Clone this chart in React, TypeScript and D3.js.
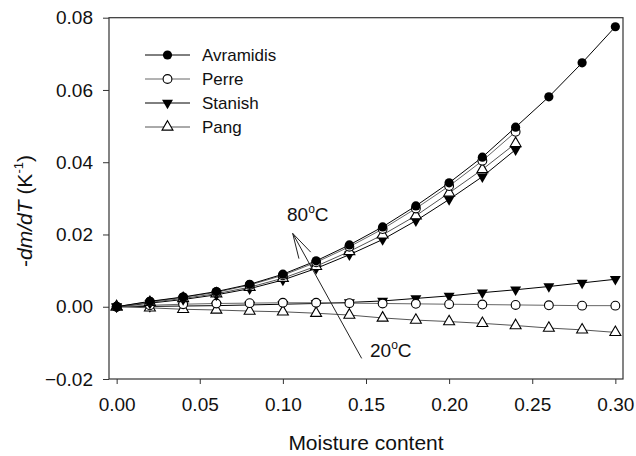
import React, { useEffect, useRef } from 'react';
import * as d3 from 'd3';

// moisture content (x) for all series
const moisture = [0, 0.02, 0.04, 0.06, 0.08, 0.10, 0.12, 0.14, 0.16, 0.18, 0.20, 0.22, 0.24, 0.26, 0.28, 0.30];

// upper group (80 C)
const avramidis = [0, 0.0015, 0.0027, 0.0042, 0.0062, 0.0090, 0.0127, 0.0171, 0.0221, 0.0279, 0.0343, 0.0414, 0.0497, 0.0581, 0.0675, 0.0775];
const perre80 = [0, 0.0014, 0.0026, 0.0040, 0.0060, 0.0087, 0.0123, 0.0166, 0.0215, 0.0272, 0.0334, 0.0404, 0.0484];
const pang80 = [0, 0.0012, 0.0023, 0.0036, 0.0054, 0.0079, 0.0112, 0.0153, 0.0199, 0.0252, 0.0315, 0.0380, 0.0452];
const stanish80 = [0, 0.0010, 0.0020, 0.0033, 0.0050, 0.0074, 0.0106, 0.0144, 0.0186, 0.0238, 0.0297, 0.0360, 0.0435];

// lower group (20 C)
const perre20 = [0, 0.0004, 0.0007, 0.0009, 0.0010, 0.0011, 0.0011, 0.0010, 0.0009, 0.0008, 0.0007, 0.0006, 0.0005, 0.0004, 0.0003, 0.0003];
const stanish20 = [0, 0.0001, 0.0002, 0.0003, 0.0005, 0.0007, 0.0009, 0.0012, 0.0016, 0.0023, 0.0030, 0.0039, 0.0047, 0.0056, 0.0066, 0.0076];
const pang20 = [0, -0.0003, -0.0007, -0.0009, -0.0012, -0.0014, -0.0018, -0.0023, -0.0031, -0.0037, -0.0041, -0.0046, -0.0052, -0.0059, -0.0064, -0.0071];

const legendNames = ['Avramidis', 'Perre', 'Stanish', 'Pang'];
const xTicks = [0, 0.05, 0.10, 0.15, 0.20, 0.25, 0.30];
const yTicks = [-0.02, 0, 0.02, 0.04, 0.06, 0.08];

// arrow annotation, data coordinates: tail (20 C) -> tip (80 C)
const arrowTail = [0.1474, -0.0143];
const arrowTip = [0.1059, 0.0203];
const label80 = [0.1025, 0.0238];
const label20 = [0.1524, -0.0138];

const FONT = '"Liberation Sans", Arial, Helvetica, sans-serif';

const Chart = ({ width, height }: { width: number; height: number }) => {
    const svgRef = useRef<SVGSVGElement>(null);

    useEffect(() => {
        const svg = d3.select(svgRef.current);
        svg.selectAll('*').remove();

        const left = 109, right = 623, top = 17.7, bottom = 379;

        const x = d3.scaleLinear().domain([-0.0046, 0.3046]).range([left, right]);
        const y = d3.scaleLinear().domain([-0.02, 0.08]).range([bottom, top]);

        const axisColor = '#333';

        // x axis
        const gx = svg.append('g')
            .attr('transform', `translate(0,${bottom})`)
            .call(d3.axisBottom(x).tickValues(xTicks).tickFormat(d3.format('.2f')).tickSize(5).tickSizeOuter(0).tickPadding(14));
        gx.select('.domain').remove();
        gx.selectAll('line').attr('stroke', axisColor);
        gx.selectAll('text').attr('font-size', '19px').attr('font-family', FONT).attr('fill', '#111');

        // y axis
        const gy = svg.append('g')
            .attr('transform', `translate(${left},0)`)
            .call(d3.axisLeft(y).tickValues(yTicks).tickFormat(d3.format('.2f')).tickSize(6).tickSizeOuter(0).tickPadding(10));
        gy.select('.domain').remove();
        gy.selectAll('line').attr('stroke', axisColor);
        gy.selectAll('text').attr('font-size', '19px').attr('font-family', FONT).attr('fill', '#111');

        // frame
        svg.append('rect')
            .attr('x', left).attr('y', top)
            .attr('width', right - left).attr('height', bottom - top)
            .attr('fill', 'none').attr('stroke', axisColor).attr('stroke-width', 1.2);

        const series = [
            { values: stanish20, marker: 'down', line: '#000' },
            { values: pang20, marker: 'up', line: '#555' },
            { values: perre20, marker: 'open', line: '#666' },
            { values: stanish80, marker: 'down', line: '#000' },
            { values: pang80, marker: 'up', line: '#555' },
            { values: perre80, marker: 'open', line: '#666' },
            { values: avramidis, marker: 'filled', line: '#000' },
        ];

        const line = d3.line<number>()
            .x((d, i) => x(moisture[i]))
            .y(d => y(d));

        const triUp = d3.symbol().type(d3.symbolTriangle).size(52)();
        const tri = d3.symbol().type(d3.symbolTriangle).size(52)();

        const drawMarker = (g: any, kind: string, cx: number, cy: number) => {
            if (kind === 'filled') {
                g.append('circle').attr('cx', cx).attr('cy', cy).attr('r', 4.6).attr('fill', '#000');
            } else if (kind === 'open') {
                g.append('circle').attr('cx', cx).attr('cy', cy).attr('r', 4.4)
                    .attr('fill', '#fff').attr('stroke', '#000').attr('stroke-width', 1.1);
            } else if (kind === 'up') {
                g.append('path').attr('d', triUp)
                    .attr('transform', `translate(${cx},${cy})`)
                    .attr('fill', '#fff').attr('stroke', '#000').attr('stroke-width', 1.1);
            } else {
                g.append('path').attr('d', tri)
                    .attr('transform', `translate(${cx},${cy}) rotate(180)`)
                    .attr('fill', '#000');
            }
        };

        const plot = svg.append('g');
        series.forEach(s => {
            plot.append('path')
                .datum(s.values)
                .attr('fill', 'none')
                .attr('stroke', s.line)
                .attr('stroke-width', 1)
                .attr('d', line);
        });
        series.forEach(s => {
            const g = plot.append('g');
            s.values.forEach((v, i) => drawMarker(g, s.marker, x(moisture[i]), y(v)));
        });

        // arrow
        const [tx, ty] = [x(arrowTail[0]), y(arrowTail[1])];
        const [hx, hy] = [x(arrowTip[0]), y(arrowTip[1])];
        const ang = Math.atan2(ty - hy, tx - hx);
        const wing = 26, spread = 15 * Math.PI / 180;
        const arrow = svg.append('g').attr('stroke', '#222').attr('stroke-width', 1).attr('fill', 'none');
        arrow.append('line').attr('x1', tx).attr('y1', ty).attr('x2', hx).attr('y2', hy);
        [-spread, spread].forEach(a => {
            arrow.append('line')
                .attr('x1', hx).attr('y1', hy)
                .attr('x2', hx + wing * Math.cos(ang + a))
                .attr('y2', hy + wing * Math.sin(ang + a));
        });

        const tempLabel = (pos: number[], t: string) => {
            const txt = svg.append('text')
                .attr('x', x(pos[0])).attr('y', y(pos[1]))
                .attr('font-family', FONT).attr('font-size', '19px').attr('fill', '#111');
            txt.append('tspan').text(t);
            txt.append('tspan').attr('font-size', '12px').attr('dy', -8).text('o');
            txt.append('tspan').attr('dy', 8).text('C');
        };
        tempLabel(label80, '80');
        tempLabel(label20, '20');

        // legend
        const legendMarkers = ['filled', 'open', 'down', 'up'];
        const legendLines = ['#000', '#666', '#000', '#555'];
        legendNames.forEach((name, i) => {
            const ly = 55 + i * 24;
            const g = svg.append('g');
            g.append('line').attr('x1', 145).attr('x2', 190).attr('y1', ly).attr('y2', ly)
                .attr('stroke', legendLines[i]).attr('stroke-width', 1);
            drawMarker(g, legendMarkers[i], 167.5, ly);
            g.append('text').attr('x', 202).attr('y', ly).attr('dy', '0.36em')
                .attr('font-family', FONT).attr('font-size', '17px').attr('fill', '#111')
                .text(name);
        });

        // axis titles
        svg.append('text')
            .attr('x', (left + right) / 2).attr('y', 450)
            .attr('text-anchor', 'middle')
            .attr('font-family', FONT).attr('font-size', '21px').attr('fill', '#111')
            .text('Moisture content');

        const yt = svg.append('text')
            .attr('transform', 'translate(32,211) rotate(-90)')
            .attr('text-anchor', 'middle')
            .attr('font-family', FONT).attr('font-size', '21px').attr('fill', '#111');
        yt.append('tspan').text('-');
        yt.append('tspan').attr('font-style', 'italic').text('dm/dT');
        yt.append('tspan').text(' (K');
        yt.append('tspan').attr('font-size', '13px').attr('dy', -9).text('-1');
        yt.append('tspan').attr('dy', 9).text(')');

    }, [width, height]);

    return <svg ref={svgRef} width={width} height={height} style={{ position: 'absolute', left: 0, top: 0, background: '#fff' }} />;
};

export default function App() {
    return <Chart width={636} height={456} />;
}
